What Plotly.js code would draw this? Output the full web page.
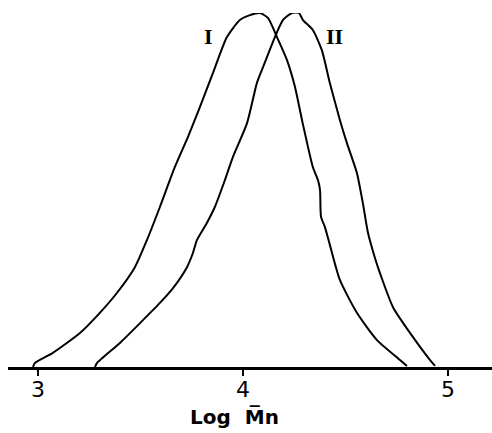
<!DOCTYPE html>
<html>
<head>
<meta charset="utf-8">
<script src="https://cdn.plot.ly/plotly-3.0.1.min.js"></script>
<style>
html,body{margin:0;padding:0;background:#fff;}
#chart{width:492px;height:433px;}
</style>
</head>
<body>
<div id="chart"></div>
<script>
// Curve I (log Mn vs relative amount)
var xI = [2.976, 2.985, 3.073, 3.205, 3.302, 3.385, 3.473, 3.532, 3.595, 3.668, 3.732, 3.790, 3.854, 3.922, 3.985, 4.034, 4.083, 4.122, 4.166, 4.215, 4.254, 4.288, 4.341, 4.366, 4.376, 4.381, 4.400, 4.424, 4.473, 4.556, 4.654, 4.766, 4.800];
var yI = [0, 1.1, 4.0, 9.6, 15.3, 20.9, 28.2, 35.9, 45.2, 56.5, 65.0, 73.4, 83.1, 93.2, 98.0, 99.4, 100, 98.6, 93.2, 86.7, 79.1, 69.8, 56.5, 52.8, 50.0, 42.4, 39.5, 34.5, 24.6, 15.3, 7.6, 2.0, 0.3];
// Curve II
var xII = [3.278, 3.288, 3.400, 3.498, 3.595, 3.659, 3.727, 3.756, 3.776, 3.824, 3.863, 3.912, 3.951, 4.020, 4.068, 4.098, 4.156, 4.195, 4.239, 4.273, 4.293, 4.341, 4.385, 4.424, 4.473, 4.507, 4.556, 4.585, 4.610, 4.644, 4.668, 4.732, 4.829, 4.912, 4.937];
var yII = [0, 1.1, 6.8, 12.4, 18.1, 22.3, 28.2, 32.2, 35.9, 40.7, 45.2, 52.8, 59.3, 68.9, 80.2, 84.7, 93.2, 98.0, 100, 100, 98.0, 95.2, 89.5, 80.2, 69.8, 63.3, 54.8, 46.3, 37.9, 30.8, 26.6, 16.9, 8.5, 2.0, 0.3];
var tickVals = [3, 4, 5];
var tickText = ['3', '4', '5'];
var curveLabels = ['I', 'II'];
var labelX = [3.83, 4.445];
var labelY = [93.5, 93.5];
var axisTitle = 'Log  M\u0305n';

var lineStyle = {color: '#000', width: 2, shape: 'spline', smoothing: 0.6};
var traces = [
  {x: xI, y: yI, mode: 'lines', line: lineStyle, hoverinfo: 'skip'},
  {x: xII, y: yII, mode: 'lines', line: lineStyle, hoverinfo: 'skip'}
];
var annots = curveLabels.map(function(t, i){
  return {x: labelX[i], y: labelY[i], xref: 'x', yref: 'y', text: '<b>' + t + '</b>', showarrow: false,
    font: {family: 'Liberation Serif', size: 22, color: '#000'}};
});
annots.push({x: 0.467, y: 0, xref: 'paper', yref: 'paper', yanchor: 'top', yshift: -36,
  text: '<b>' + axisTitle + '</b>', showarrow: false,
  font: {family: 'DejaVu Sans', size: 20, color: '#000'}});
var layout = {
  width: 492, height: 433,
  margin: {l: 8, r: 0, t: 13, b: 66, pad: 0},
  paper_bgcolor: '#fff', plot_bgcolor: '#fff',
  showlegend: false,
  xaxis: {
    range: [2.854, 5.215],
    showgrid: false, zeroline: false,
    showline: true, linecolor: '#000', linewidth: 3,
    ticks: 'outside', ticklen: 6, tickwidth: 2, tickcolor: '#000',
    ticklabelstandoff: -5,
    tickvals: tickVals, ticktext: tickText,
    tickfont: {family: 'DejaVu Sans', size: 22, color: '#000'},
    automargin: false, fixedrange: true
  },
  yaxis: {
    range: [0, 100], visible: false, showgrid: false, zeroline: false, fixedrange: true
  },
  annotations: annots
};
Plotly.newPlot('chart', traces, layout, {staticPlot: true, displayModeBar: false});
</script>
</body>
</html>
